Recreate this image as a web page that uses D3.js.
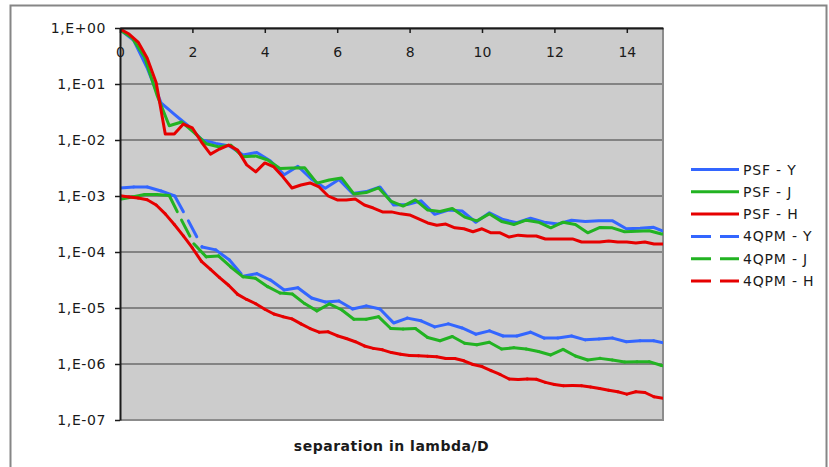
<!DOCTYPE html>
<html>
<head>
<meta charset="utf-8">
<script src="https://cdn.jsdelivr.net/npm/d3@7"></script>
<style>
  body { margin: 0; background: #fff; }
  svg text { font-family: "DejaVu Sans", Verdana, sans-serif; fill: #1a1a1a; }
</style>
</head>
<body>
<div id="plot"></div>
<script>
// separation grids (lambda/D): one detector pixel is a different step in each band
const sepY = d3.range(41).map(i => i * 0.378),
      sepJ = d3.range(46).map(i => i * 0.34),
      sepH = d3.range(61).map(i => i * 0.25)

const psfY = [0.94, 0.6, 0.19, 0.046, 0.0285, 0.0178, 0.010, 8.7e-3, 7.8e-3, 5.4e-3,
  6.0e-3, 4.2e-3, 2.4e-3, 3.4e-3, 2.0e-3, 1.37e-3, 1.98e-3, 1.11e-3, 1.2e-3, 1.45e-3,
  6.9e-4, 7.05e-4, 8.2e-4, 4.7e-4, 5.6e-4, 5.4e-4, 3.4e-4, 5.0e-4, 3.8e-4, 3.33e-4,
  4.0e-4, 3.4e-4, 3.16e-4, 3.7e-4, 3.5e-4, 3.6e-4, 3.6e-4, 2.6e-4, 2.65e-4, 2.76e-4, 2.2e-4]

const psfJ = [0.92, 0.66, 0.30, 0.064, 0.018, 0.021, 0.0137, 8.6e-3, 7.6e-3, 8.1e-3,
  5.0e-3, 5.2e-3, 4.4e-3, 3.1e-3, 3.16e-3, 3.2e-3, 1.7e-3, 1.93e-3, 2.1e-3, 1.09e-3,
  1.15e-3, 1.4e-3, 8.1e-4, 6.6e-4, 8.5e-4, 5.6e-4, 5.3e-4, 6.0e-4, 4.2e-4, 3.6e-4,
  4.8e-4, 3.5e-4, 3.1e-4, 3.7e-4, 3.4e-4, 2.7e-4, 3.4e-4, 3.1e-4, 2.2e-4, 2.75e-4,
  2.7e-4, 2.3e-4, 2.35e-4, 2.4e-4, 2.1e-4, 2.0e-4]

const psfH = [0.96, 0.78, 0.56, 0.29, 0.105, 0.0128, 0.0128, 0.0193, 0.0164, 0.0092,
  5.6e-3, 6.9e-3, 8.1e-3, 6.6e-3, 3.6e-3, 2.7e-3, 3.9e-3, 3.3e-3, 2.2e-3, 1.39e-3,
  1.57e-3, 1.71e-3, 1.45e-3, 1.0e-3, 8.5e-4, 8.5e-4, 8.8e-4, 6.9e-4, 6.1e-4, 5.2e-4,
  5.2e-4, 4.8e-4, 4.6e-4, 3.9e-4, 3.3e-4, 3.0e-4, 3.16e-4, 2.7e-4, 2.6e-4, 2.3e-4,
  2.6e-4, 2.2e-4, 2.2e-4, 1.85e-4, 2.0e-4, 1.93e-4, 1.93e-4, 1.71e-4, 1.71e-4, 1.71e-4,
  1.71e-4, 1.51e-4, 1.51e-4, 1.51e-4, 1.57e-4, 1.51e-4, 1.51e-4, 1.45e-4, 1.51e-4, 1.39e-4, 1.39e-4]

const qpmY = [1.39e-3, 1.45e-3, 1.45e-3, 1.23e-3, 1.0e-3, 3.6e-4, 1.23e-4, 1.09e-4, 7.2e-5, 3.7e-5,
  4.1e-5, 3.16e-5, 2.1e-5, 2.3e-5, 1.51e-5, 1.28e-5, 1.33e-5, 9.6e-6, 1.09e-5, 9.6e-6,
  5.4e-6, 6.6e-6, 5.9e-6, 4.6e-6, 5.2e-6, 4.4e-6, 3.4e-6, 3.9e-6, 3.16e-6, 3.16e-6,
  3.7e-6, 2.9e-6, 2.9e-6, 3.16e-6, 2.7e-6, 2.8e-6, 2.9e-6, 2.5e-6, 2.6e-6, 2.6e-6, 2.3e-6]

const qpmJ = [8.7e-4, 9.6e-4, 1.06e-3, 1.06e-3, 1.02e-3, 3.7e-4, 1.4e-4, 8.2e-5, 8.5e-5, 5.4e-5,
  3.6e-5, 3.4e-5, 2.4e-5, 1.85e-5, 1.78e-5, 1.2e-5, 8.9e-6, 1.18e-5, 9.3e-6, 6.3e-6,
  6.3e-6, 7.0e-6, 4.3e-6, 4.2e-6, 4.3e-6, 2.97e-6, 2.6e-6, 3.1e-6, 2.35e-6, 2.2e-6,
  2.45e-6, 1.85e-6, 1.95e-6, 1.85e-6, 1.67e-6, 1.45e-6, 1.82e-6, 1.39e-6, 1.18e-6, 1.26e-6,
  1.18e-6, 1.09e-6, 1.1e-6, 1.1e-6, 9.4e-7, 8.5e-7]

const qpmH = [1.01e-3, 9.6e-4, 9.2e-4, 8.6e-4, 6.9e-4, 4.8e-4, 3.1e-4, 1.94e-4, 1.18e-4, 6.8e-5,
  4.9e-5, 3.5e-5, 2.55e-5, 1.75e-5, 1.42e-5, 1.19e-5, 9.5e-6, 7.8e-6, 7.0e-6, 6.4e-6,
  5.2e-6, 4.3e-6, 3.7e-6, 3.75e-6, 3.2e-6, 2.85e-6, 2.5e-6, 2.1e-6, 1.9e-6, 1.79e-6,
  1.6e-6, 1.49e-6, 1.42e-6, 1.4e-6, 1.38e-6, 1.35e-6, 1.25e-6, 1.25e-6, 1.14e-6, 9.8e-7,
  9.0e-7, 7.6e-7, 6.5e-7, 5.4e-7, 5.3e-7, 5.4e-7, 5.35e-7, 4.7e-7, 4.3e-7, 4.1e-7,
  4.15e-7, 4.1e-7, 3.9e-7, 3.65e-7, 3.4e-7, 3.2e-7, 2.9e-7, 3.2e-7, 3.1e-7, 2.6e-7, 2.45e-7]

const seriesNames = ["PSF - Y", "PSF - J", "PSF - H", "4QPM - Y", "4QPM - J", "4QPM - H"]
const xTicks = [0, 2, 4, 6, 8, 10, 12, 14]
const yTicks = [1, 1e-1, 1e-2, 1e-3, 1e-4, 1e-5, 1e-6, 1e-7]
const yTickLabels = ["1,E+00", "1,E-01", "1,E-02", "1,E-03", "1,E-04", "1,E-05", "1,E-06", "1,E-07"]

const blue = "#3366ff",
      green = "#22b322",
      red = "#e60000"

const series = [
  {name: seriesNames[0], sep: sepY, values: psfY, color: blue, dashed: false},
  {name: seriesNames[1], sep: sepJ, values: psfJ, color: green, dashed: false},
  {name: seriesNames[2], sep: sepH, values: psfH, color: red, dashed: false},
  {name: seriesNames[3], sep: sepY, values: qpmY, color: blue, dashed: true},
  {name: seriesNames[4], sep: sepJ, values: qpmJ, color: green, dashed: true},
  {name: seriesNames[5], sep: sepH, values: qpmH, color: red, dashed: true}
]

const w = 829, h = 467,
      plot = {left: 120, top: 28, right: 663, bottom: 420}

const g = d3.select("#plot").append("svg")
  .attr("width", w)
  .attr("height", h)

// outer chart frame (runs off the bottom of the picture)
g.append("rect")
  .attr("x", 10.5).attr("y", 5.5)
  .attr("width", 816).attr("height", 480)
  .attr("fill", "#fff")
  .attr("stroke", "#868686")
  .attr("stroke-width", 2)

const xScale = d3.scaleLinear()
        .domain([0, 15])
        .range([plot.left, plot.right]),
      yScale = d3.scaleLog()
        .domain([1e-7, 1])
        .range([plot.bottom, plot.top])

// plot area
g.append("rect")
  .attr("x", plot.left).attr("y", plot.top)
  .attr("width", plot.right - plot.left)
  .attr("height", plot.bottom - plot.top)
  .attr("fill", "#cccccc")

// horizontal gridlines at each decade
g.append("g")
  .selectAll("line")
  .data(yTicks)
  .join("line")
  .attr("x1", plot.left).attr("x2", plot.right)
  .attr("y1", d => yScale(d)).attr("y2", d => yScale(d))
  .attr("stroke", "#3a3a3a")
  .attr("stroke-width", 1.2)

// right and bottom edges of the plot area
g.append("polyline")
  .attr("points", `${plot.right},${plot.top} ${plot.right},${plot.bottom} ${plot.left},${plot.bottom}`)
  .attr("fill", "none")
  .attr("stroke", "#8c8c8c")
  .attr("stroke-width", 2)

g.append("clipPath")
  .attr("id", "clip")
  .append("rect")
  .attr("x", plot.left).attr("y", plot.top - 5)
  .attr("width", plot.right - plot.left)
  .attr("height", plot.bottom - plot.top + 10)

const lines = g.append("g").attr("clip-path", "url(#clip)")
const line = d3.line()
  .x(d => xScale(d[0]))
  .y(d => yScale(d[1]))

series.forEach(s => {
  const pts = s.values.map((v, i) => [s.sep[i], v])
  if (!s.dashed) {
    lines.append("path")
      .datum(pts)
      .attr("d", line)
      .attr("fill", "none")
      .attr("stroke", s.color)
      .attr("stroke-width", 3)
      .attr("stroke-linejoin", "round")
  } else {
    // dash pattern restarts on every segment, so only long steep segments show gaps
    lines.append("g")
      .selectAll("line")
      .data(d3.pairs(pts))
      .join("line")
      .attr("x1", d => xScale(d[0][0])).attr("y1", d => yScale(d[0][1]))
      .attr("x2", d => xScale(d[1][0])).attr("y2", d => yScale(d[1][1]))
      .attr("stroke", s.color)
      .attr("stroke-width", 3)
      .attr("stroke-linecap", "round")
      .style("stroke-dasharray", "18,11")
  }
})

// y axis
const yAxis = g.append("g")
  .attr("transform", `translate(${plot.left}, 0)`)
  .call(d3.axisLeft(yScale)
    .tickValues(yTicks)
    .tickFormat((d, i) => yTickLabels[i])
    .tickSize(5)
    .tickSizeOuter(0)
    .tickPadding(9))
yAxis.select(".domain").attr("stroke", "#1a1a1a").attr("stroke-width", 2)
yAxis.selectAll(".tick line").attr("stroke", "#1a1a1a").attr("stroke-width", 1.5)
yAxis.selectAll("text")
  .attr("font-size", 14)
  .style("letter-spacing", "0.6px")

// x axis crosses at the top (1,E+00), labels sit inside the plot
const xAxis = g.append("g")
  .attr("transform", `translate(0, ${plot.top})`)
  .call(d3.axisBottom(xScale)
    .tickValues(xTicks)
    .tickSize(5)
    .tickSizeOuter(0)
    .tickPadding(14))
xAxis.select(".domain").attr("stroke", "#1a1a1a").attr("stroke-width", 2)
xAxis.selectAll(".tick line").attr("stroke", "#1a1a1a").attr("stroke-width", 1.5)
xAxis.selectAll("text").attr("font-size", 14)

// axis title
g.append("text")
  .attr("x", (plot.left + plot.right) / 2)
  .attr("y", 451)
  .attr("text-anchor", "middle")
  .attr("font-size", 14)
  .attr("font-weight", "bold")
  .style("letter-spacing", "0.5px")
  .text("separation in lambda/D")

// legend
const legend = g.append("g")
  .selectAll("g")
  .data(series)
  .join("g")
  .attr("transform", (d, i) => `translate(691, ${169.5 + i * 22.3})`)

legend.append("line")
  .attr("x1", 0).attr("x2", 48)
  .attr("stroke", d => d.color)
  .attr("stroke-width", 3)
  .style("stroke-dasharray", d => d.dashed ? "20,9" : null)

legend.append("text")
  .attr("x", 52)
  .attr("dy", "0.36em")
  .attr("font-size", 14)
  .style("letter-spacing", "0.8px")
  .text(d => d.name)
</script>
</body>
</html>
